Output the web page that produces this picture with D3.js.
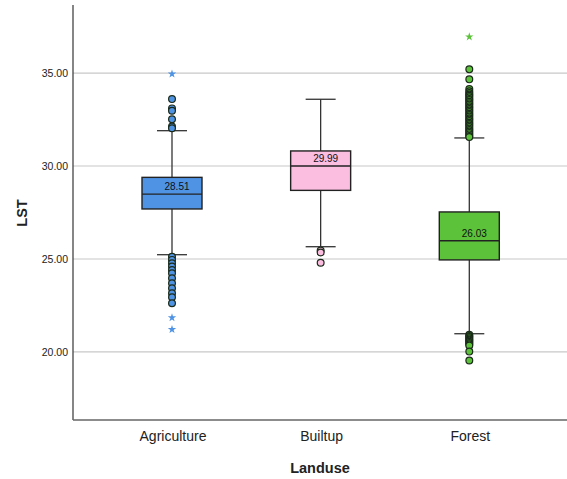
<script src="https://cdnjs.cloudflare.com/ajax/libs/d3/7.8.5/d3.min.js"></script>
<style>
body { margin: 0; background: #fff; }
svg { font-family: "Liberation Sans", Arial, sans-serif; }
.grid line { stroke: #c8c8c8; stroke-width: 1.2; }
.tick-label { font-size: 10.5px; fill: #222; }
.cat-label { font-size: 14px; fill: #222; }
.axis-title { font-size: 14.5px; font-weight: bold; fill: #222; }
.med-label { font-size: 10px; fill: #111; }
</style>
<svg id="chart" width="567" height="479"></svg>
<script>
// categories and summary stats
var categories = ["Agriculture", "Builtup", "Forest"]
var colors = ["#4f93e4", "#fbbde0", "#5cc23a"]
var q1 = [27.69, 28.69, 24.95]
var median = [28.49, 30.00, 25.98]
var q3 = [29.39, 30.81, 27.53]
var whiskLow = [25.23, 25.66, 20.98]
var whiskHigh = [31.90, 33.59, 31.51]
var medianText = ["28.51", "29.99", "26.03"]

// outliers (circles) and extremes (stars)
var outliers = [
  [33.60, 33.10, 32.97, 32.51, 32.12, 32.03, 25.12, 24.95, 24.77, 24.59, 24.41, 24.23, 23.96, 23.69, 23.42, 23.16, 22.94, 22.62],
  [25.45, 25.35, 24.80],
  [35.20, 34.66, 34.14, 34.02, 33.93, 33.85, 33.78, 33.70, 33.61, 33.55, 33.46, 33.38, 33.31, 33.22, 33.15, 33.06, 32.98, 32.90, 32.81, 32.74, 32.66, 32.57, 32.50, 32.42, 32.33, 32.26, 32.18, 32.10, 32.01, 31.94, 31.86, 31.78, 31.70, 31.62, 31.56,
   20.92, 20.86, 20.80, 20.74, 20.67, 20.61, 20.55, 20.48, 20.41, 20.35, 20.02, 19.54]
]
var extremes = [
  [34.95, 21.84, 21.21],
  [],
  [36.95]
]
var yTicks = [20, 25, 30, 35]

var svg = d3.select('#chart')

var y = d3.scaleLinear().domain([16.34, 38.66]).range([420, 5])
var x = d3.scalePoint().domain(categories).range([172, 469.3])
var left = 73, right = 567, boxW = 60, capW = 30

// gridlines
svg.append('g').attr('class', 'grid')
  .selectAll('line').data(yTicks).enter()
  .append('line')
  .attr('x1', left).attr('x2', right)
  .attr('y1', function(d) { return y(d) }).attr('y2', function(d) { return y(d) })

svg.append('g').selectAll('text').data(yTicks).enter()
  .append('text')
  .attr('class', 'tick-label')
  .attr('x', left - 5)
  .attr('y', function(d) { return y(d) + 4 })
  .attr('text-anchor', 'end')
  .text(d3.format('.2f'))

// frame lines
svg.append('line').attr('x1', left).attr('x2', left).attr('y1', 5).attr('y2', 420)
  .attr('stroke', '#444').attr('stroke-width', 1.3)
svg.append('line').attr('x1', left).attr('x2', right).attr('y1', 420).attr('y2', 420)
  .attr('stroke', '#666').attr('stroke-width', 1.3)

var groups = svg.append('g').selectAll('g').data(categories).enter()
  .append('g')
  .attr('transform', function(d) { return 'translate(' + x(d) + ',0)' })

// whiskers
groups.append('line')
  .attr('x1', 0).attr('x2', 0)
  .attr('y1', function(d, i) { return y(whiskLow[i]) })
  .attr('y2', function(d, i) { return y(whiskHigh[i]) })
  .attr('stroke', '#333').attr('stroke-width', 1.3)

groups.each(function(d, i) {
  var g = d3.select(this)
  ;[whiskLow[i], whiskHigh[i]].forEach(function(v) {
    g.append('line')
      .attr('x1', -capW / 2).attr('x2', capW / 2)
      .attr('y1', y(v)).attr('y2', y(v))
      .attr('stroke', '#333').attr('stroke-width', 1.3)
  })
})

// boxes
groups.append('rect')
  .attr('x', -boxW / 2).attr('width', boxW)
  .attr('y', function(d, i) { return y(q3[i]) })
  .attr('height', function(d, i) { return y(q1[i]) - y(q3[i]) })
  .attr('fill', function(d, i) { return colors[i] })
  .attr('stroke', '#222').attr('stroke-width', 1.4)

groups.append('line')
  .attr('x1', -boxW / 2).attr('x2', boxW / 2)
  .attr('y1', function(d, i) { return y(median[i]) })
  .attr('y2', function(d, i) { return y(median[i]) })
  .attr('stroke', '#222').attr('stroke-width', 1.4)

groups.append('text')
  .attr('class', 'med-label')
  .attr('x', 5)
  .attr('y', function(d, i) { return y(median[i]) - 4 })
  .attr('text-anchor', 'middle')
  .text(function(d, i) { return medianText[i] })

// outlier circles
groups.each(function(d, i) {
  d3.select(this).selectAll('circle').data(outliers[i]).enter()
    .append('circle')
    .attr('cx', 0)
    .attr('cy', function(v) { return y(v) })
    .attr('r', 3.4)
    .attr('fill', colors[i])
    .attr('stroke', '#1a2a1a').attr('stroke-width', 1.2)

  d3.select(this).selectAll('path.star').data(extremes[i]).enter()
    .append('path')
    .attr('class', 'star')
    .attr('d', d3.symbol().type(d3.symbolStar).size(22))
    .attr('transform', function(v) { return 'translate(0,' + y(v) + ')' })
    .attr('fill', colors[i])
})

// labels
svg.append('g').selectAll('text').data(categories).enter()
  .append('text')
  .attr('class', 'cat-label')
  .attr('x', function(d) { return x(d) + 1 })
  .attr('y', 441)
  .attr('text-anchor', 'middle')
  .text(function(d) { return d })

svg.append('text')
  .attr('class', 'axis-title')
  .attr('text-anchor', 'middle')
  .attr('transform', 'translate(27,213) rotate(-90)')
  .text('LST')

svg.append('text')
  .attr('class', 'axis-title')
  .attr('text-anchor', 'middle')
  .attr('x', 320).attr('y', 473)
  .text('Landuse')
</script>
